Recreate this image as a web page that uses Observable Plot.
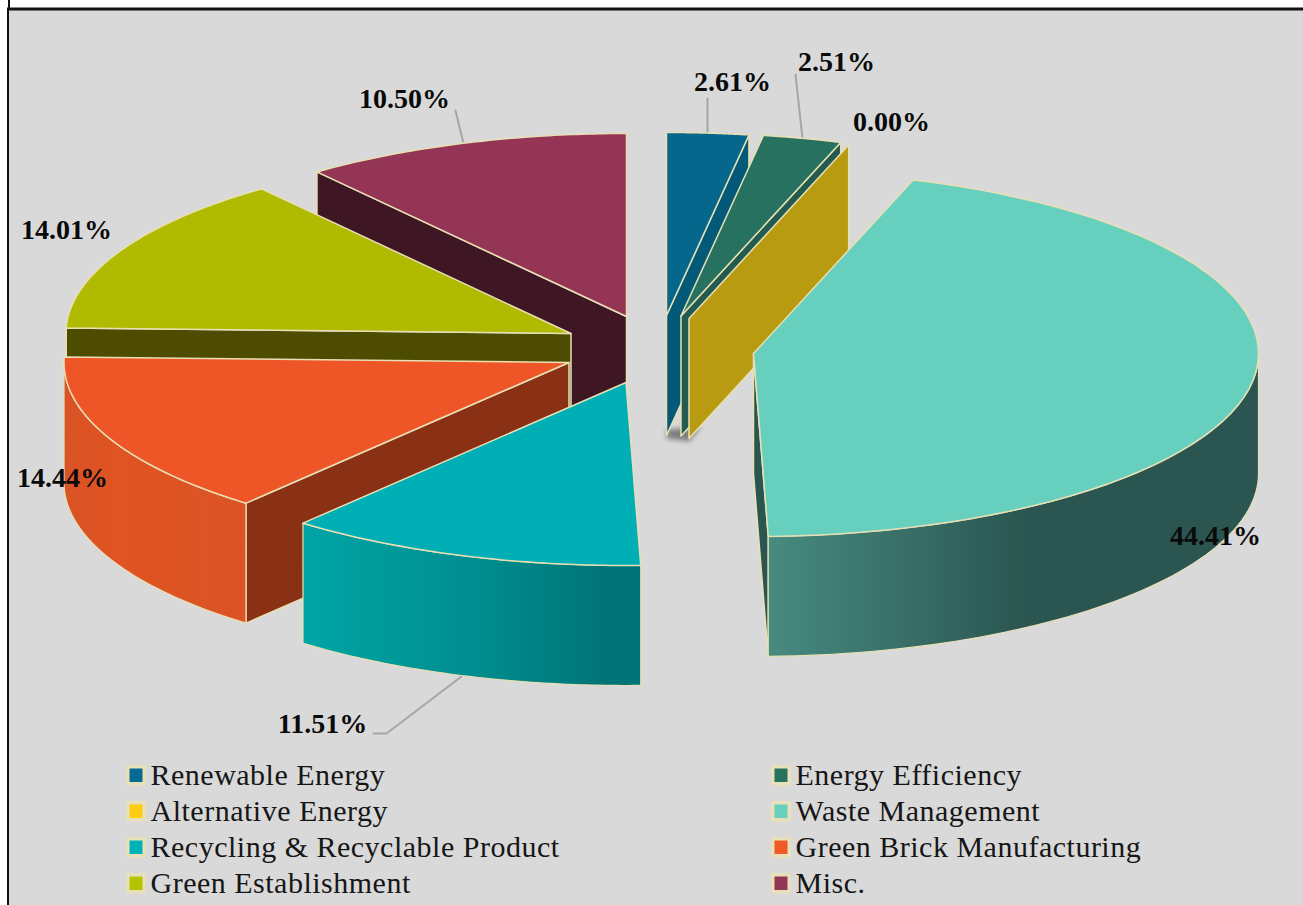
<!DOCTYPE html>
<html>
<head>
<meta charset="utf-8">
<script src="https://cdn.jsdelivr.net/npm/d3@7"></script>
<script src="https://cdn.jsdelivr.net/npm/@observablehq/plot@0.6"></script>
<style>
html,body{margin:0;padding:0;background:#fff}
svg{display:block}
</style>
</head>
<body>
<div id="chart"></div>
<script>
// ---- data ----
const categories = ["Renewable Energy","Energy Efficiency","Alternative Energy","Waste Management","Recycling & Recyclable Product","Green Brick Manufacturing","Green Establishment","Misc."];
const shares = [2.61,2.51,0.00,44.41,11.51,14.44,14.01,10.50];
const labels = ["2.61%","2.51%","0.00%","44.41%","11.51%","14.44%","14.01%","10.50%"];

// ---- styles ----
const topColors  = ["#05678b","#26715f","#b89b10","#66cfbe","#00afb5","#ee5628","#b0ba00","#943555"];
const sideColors = ["#035a78","#235b50","#b89b10","#2a5550","#006f72","#8a3014","#4d4c00","#3e1624"];
const outerFills = ["#035a78","#235b50","#b89b10","url(#wasteWall)","url(#recycleWall)","url(#brickWall)","#4d4c00","#3e1624"];
const legendColors = ["#066a92","#26715f","#ffcc11","#66cfbe","#00b2b8","#f05a28","#b5c200","#943555"];
const rimColor = "#e8e0b4";

// ---- layout ----
const W = 1303, H = 905;
const RX = 505, RY = 183, DEPTH = 120;
const apexX = [666,680.5,688.5,753,625.5,568.5,570.5,626];   // exploded position of each slice
const apexY = [315,315.5,318,353,382,362,333,316];
const labelX = [732,836,891,1215,322,62,66,404];
const labelY = [82,62,122,536,724,478,230,99];
const drawOrder = [0,1,2,7,6,5,4,3];
const legendRowY = [775,811,847,883];
const legendColX = [136,781];

// ---- pie geometry derived from the shares ----
const total = d3.sum(shares);
const cum = d3.cumsum(shares);
const startAngle = i => (i === 0 ? 0 : cum[i-1]) / total * 2 * Math.PI;
const endAngle = i => cum[i] / total * 2 * Math.PI;
const rimPoint = (i, a, drop = 0) => ({x: apexX[i] + RX * Math.sin(a), y: apexY[i] - RY * Math.cos(a) + drop});
const arc = (i, a0, a1, drop = 0) => d3.range(0, 61).map(k => rimPoint(i, a0 + (a1 - a0) * k / 60, drop));
const apex = (i, drop = 0) => ({x: apexX[i], y: apexY[i] + drop});
const closed = pts => [...pts, pts[0]];

const poly = (pts, fill, sw = 1.5) => Plot.line(closed(pts), {x: "x", y: "y", fill, stroke: rimColor, strokeWidth: sw, curve: "linear"});

function sliceMarks(i) {
  const a0 = startAngle(i), a1 = endAngle(i), marks = [];
  // radial cut faces that look toward the viewer
  const radial = a => [apex(i), rimPoint(i, a), rimPoint(i, a, DEPTH), apex(i, DEPTH)];
  if (Math.sin(a0) < -1e-6) marks.push(poly(radial(a0), sideColors[i]));
  if (Math.sin(a1) > 1e-6) marks.push(poly(radial(a1), sideColors[i]));
  // outer rim, front half of the ellipse only
  const f0 = Math.max(a0, Math.PI / 2), f1 = Math.min(a1, 3 * Math.PI / 2);
  if (f1 > f0) marks.push(poly([...arc(i, f0, f1), ...arc(i, f1, f0, DEPTH)], outerFills[i], 1.2));
  // top face
  if (a1 > a0) marks.push(poly([apex(i), ...arc(i, a0, a1)], topColors[i]));
  return marks;
}

const gradient = (id, stops) => {
  const g = d3.create("svg:linearGradient").attr("id", id).attr("x1", 0).attr("x2", 1).attr("y1", 0).attr("y2", 0);
  stops.forEach(([o, c]) => g.append("stop").attr("offset", o).attr("stop-color", c));
  return g.node();
};
const defs = () => {
  const d = d3.create("svg:defs");
  d.append(() => gradient("wasteWall", [[0,"#478b80"],[0.53,"#2a5550"],[1,"#2a5550"]]));
  d.append(() => gradient("recycleWall", [[0,"#00a5a5"],[0.5,"#008e90"],[0.9,"#007476"],[1,"#007476"]]));
  d.append(() => gradient("brickWall", [[0,"#d95325"],[0.3,"#e05322"],[1,"#db5426"]]));
  return d.node();
};

const leaders = [
  [{x:707,y:98},{x:707,y:133}],
  [{x:795,y:74},{x:802,y:138}],
  [{x:455,y:110},{x:463,y:143}],
  [{x:373,y:733},{x:386,y:733},{x:461,y:676}]
];

// soft shadow the zero-size slice casts under the narrow walls
const blur = (index, scales, values, dims, ctx, next) => {
  const g = next(index, scales, values, dims, ctx);
  g.style.filter = "blur(2.5px)";
  return g;
};
const shadowPts = [apex(0, DEPTH - 6), apex(0, DEPTH + 3), apex(2, DEPTH + 3), {x: apexX[2] + 12, y: apexY[2] + DEPTH - 12}];

const legendRows = categories.map((name, i) => ({
  name, color: legendColors[i],
  cx: legendColX[i % 2], cy: legendRowY[Math.floor(i / 2)]
}));

const chart = Plot.plot({
  width: W, height: H,
  margin: 0,
  x: {domain: [0, W], range: [0, W], axis: null},
  y: {domain: [0, H], range: [0, H], axis: null},
  style: {background: "#fff"},
  marks: [
    defs,
    // panel
    Plot.rect([{x1: 8, x2: W, y1: 8, y2: H}], {x1: "x1", x2: "x2", y1: "y1", y2: "y2", fill: "#d9d9d9"}),
    Plot.ruleY([8.5], {x1: 7, x2: W, stroke: "#111", strokeWidth: 3}),
    Plot.ruleX([7.5], {y1: 8, y2: H, stroke: "#111", strokeWidth: 2}),
    Plot.ruleX([8.5], {y1: 0, y2: 8, stroke: "#111", strokeWidth: 2}),
    // leaders
    ...leaders.map(l => Plot.line(l, {x: "x", y: "y", stroke: "#a6a6a6", strokeWidth: 2, curve: "linear"})),
    // shadow
    Plot.line(closed(shadowPts), {x: "x", y: "y", fill: "#666", stroke: "none", fillOpacity: 0.8, render: blur}),
    // slices
    ...drawOrder.flatMap(sliceMarks),
    // value labels
    Plot.text(labels.map((t, i) => ({t, x: labelX[i], y: labelY[i]})), {
      x: "x", y: "y", text: "t", fontFamily: "Liberation Serif", fontWeight: "bold", fontSize: 28, fill: "#0a0a0a", textAnchor: "middle", lineAnchor: "middle"
    }),
    // legend
    Plot.rect(legendRows, {x1: d => d.cx - 10, x2: d => d.cx + 10, y1: d => d.cy - 10, y2: d => d.cy + 10.5, fill: "#e8e0b8", rx: 2}),
    Plot.rect(legendRows, {x1: d => d.cx - 6.5, x2: d => d.cx + 6.5, y1: d => d.cy - 6.5, y2: d => d.cy + 7, fill: "color"}),
    Plot.text(legendRows, {
      x: d => d.cx + 14, y: "cy", text: "name", fontFamily: "Liberation Serif", fontSize: 30, fill: "#161616", textAnchor: "start", lineAnchor: "middle",
      render: (index, scales, values, dims, ctx, next) => {
        const g = next(index, scales, values, dims, ctx);
        g.style.letterSpacing = "0.5px";
        return g;
      }
    })
  ]
});
document.getElementById("chart").append(chart);
</script>
</body>
</html>
